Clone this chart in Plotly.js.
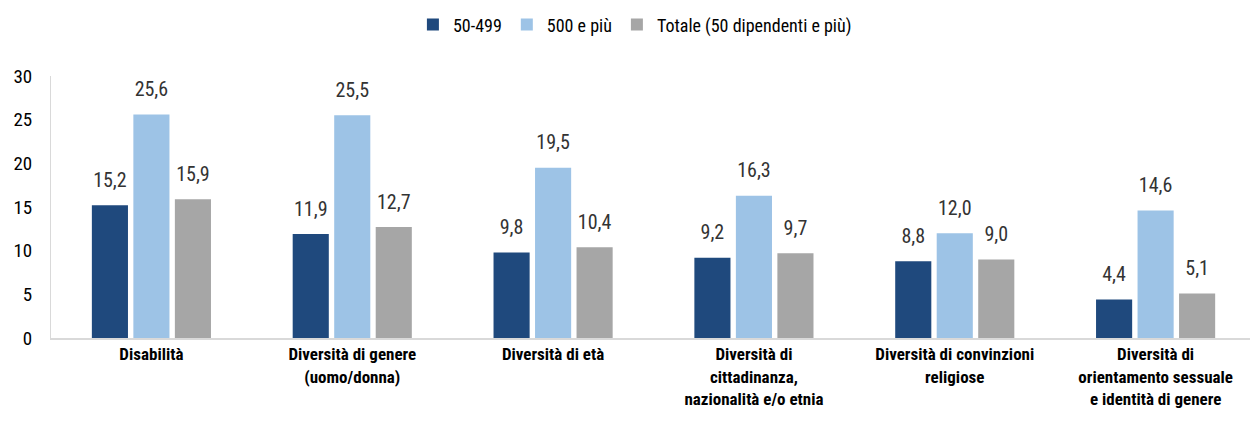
<!DOCTYPE html>
<html>
<head>
<meta charset="utf-8">
<script src="https://cdn.plot.ly/plotly-3.0.1.min.js"></script>
<style>html,body{margin:0;padding:0;background:#fff;}#chart{width:1250px;height:421px;}</style>
</head>
<body>
<div id="chart"></div>
<script>
const categories = [
  "Disabilità",
  "Diversità di genere<br>(uomo/donna)",
  "Diversità di età",
  "Diversità di<br>cittadinanza,<br>nazionalità e/o etnia",
  "Diversità di convinzioni<br>religiose",
  "Diversità di<br>orientamento sessuale<br>e identità di genere"
];
const seriesNames = ["50-499", "500 e più", "Totale (50 dipendenti e più)"];
const values_50_499 = [15.2, 11.9, 9.8, 9.2, 8.8, 4.4];
const values_500 = [25.6, 25.5, 19.5, 16.3, 12.0, 14.6];
const values_totale = [15.9, 12.7, 10.4, 9.7, 9.0, 5.1];
const colors = ["#1F497D", "#9DC3E6", "#A6A6A6"];
const yTicks = [0, 5, 10, 15, 20, 25, 30];

const FONT = "'Liberation Sans Narrow', 'Arial Narrow', 'Roboto Condensed', Roboto, sans-serif";
const fmt = v => v.toFixed(1).replace('.', ',');

const allSeries = [values_50_499, values_500, values_totale];
const barTraces = allSeries.map((vals, i) => ({
  type: 'bar',
  name: seriesNames[i],
  x: categories,
  y: vals,
  offsetgroup: String(i),
  marker: {color: colors[i], line: {width: 0}},
  hoverinfo: 'none'
}));
const labelTraces = allSeries.map((vals, i) => ({
  type: 'scatter',
  mode: 'markers+text',
  showlegend: false,
  x: categories,
  y: vals,
  offsetgroup: String(i),
  text: vals.map(fmt),
  textposition: 'top center',
  marker: {size: 20, opacity: 0},
  textfont: {family: FONT, size: 20, color: '#333333'},
  cliponaxis: false,
  hoverinfo: 'none'
}));

const layout = {
  width: 1250, height: 421,
  margin: {l: 51, r: 0, t: 76, b: 83},
  paper_bgcolor: '#fff', plot_bgcolor: '#fff',
  font: {family: FONT, color: '#000'},
  barmode: 'group',
  bargap: 0.38,
  bargroupgap: 0.13,
  scattermode: 'group',
  scattergap: 0.38,
  showlegend: true,
  legend: {
    orientation: 'h', x: 0.487, xanchor: 'center', y: 1.195, yanchor: 'middle',
    font: {family: FONT, size: 18, color: '#000'},
    itemwidth: 30, traceorder: 'normal'
  },
  xaxis: {
    type: 'category',
    range: [-0.5, 5.47],
    showline: true, linecolor: '#D9D9D9', linewidth: 2,
    ticks: '', showgrid: false,
    tickfont: {family: FONT, size: 17, color: '#000', weight: 'bold'},
    automargin: false
  },
  yaxis: {
    range: [0, 30],
    tickvals: yTicks,
    showline: true, linecolor: '#D9D9D9', linewidth: 1,
    ticks: '', showgrid: false, zeroline: false,
    tickfont: {family: FONT, size: 19, color: '#000'},
    ticklabelstandoff: 14,
    automargin: false
  }
};

Plotly.newPlot('chart', barTraces.concat(labelTraces), layout, {staticPlot: true, displayModeBar: false});
</script>
</body>
</html>
